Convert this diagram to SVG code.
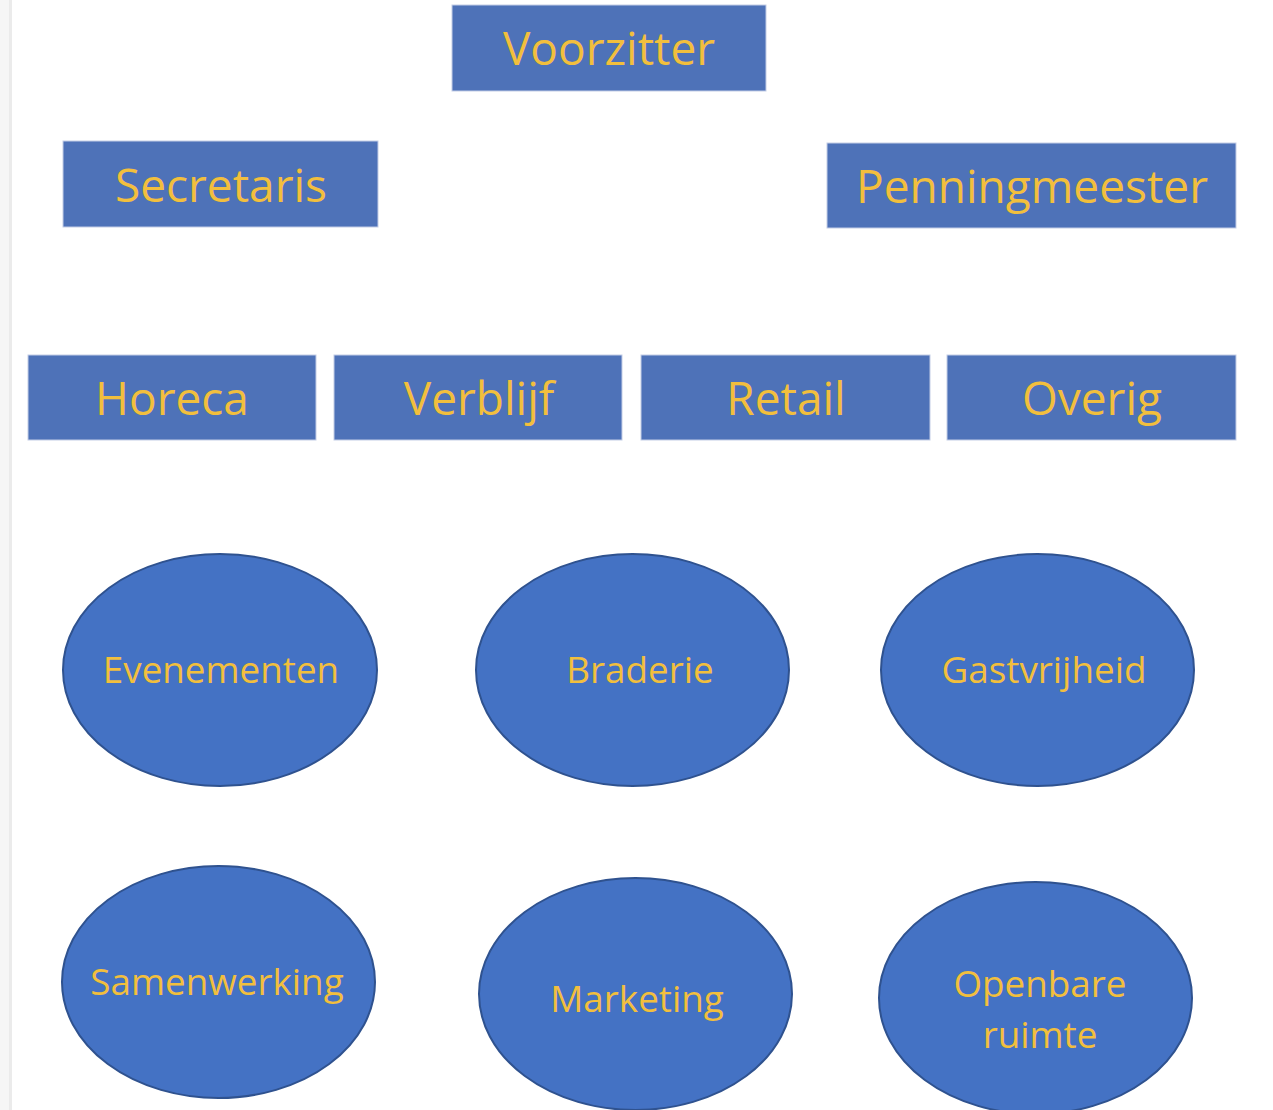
<svg xmlns="http://www.w3.org/2000/svg" width="1273" height="1110" viewBox="0 0 1273 1110">
<style>
.box{fill:#4e72b8;stroke:#c3cde6;stroke-width:1}
.oval{fill:#4472c4;stroke:#2f528f;stroke-width:2}
.t{fill:#f2bf3d;font-family:"Open Sans","Noto Sans",sans-serif;text-anchor:middle}
.tb{font-size:46px}
.to{font-size:36.8px}
</style>
<rect x="0" y="0" width="1273" height="1110" fill="#ffffff"/>
<rect x="0" y="0" width="9" height="1110" fill="#f6f6f6"/>
<rect x="9" y="0" width="3" height="1110" fill="#ebebeb"/>
<g id="connectors"></g>
<g id="voorzitter"><rect class="box" x="452" y="5" width="314" height="86"/><text class="t tb" x="609" y="65">Voorzitter</text></g>
<g id="secretaris"><rect class="box" x="63" y="141" width="315" height="86"/><text class="t tb" x="221" y="202">Secretaris</text></g>
<g id="penningmeester"><rect class="box" x="827" y="143" width="409" height="85"/><text class="t tb" x="1032" y="203">Penningmeester</text></g>
<g id="horeca"><rect class="box" x="28" y="355" width="288" height="85"/><text class="t tb" x="172" y="415">Horeca</text></g>
<g id="verblijf"><rect class="box" x="334" y="355" width="288" height="85"/><text class="t tb" x="479" y="415">Verblijf</text></g>
<g id="retail"><rect class="box" x="641" y="355" width="289" height="85"/><text class="t tb" x="786" y="415">Retail</text></g>
<g id="overig"><rect class="box" x="947" y="355" width="289" height="85"/><text class="t tb" x="1092" y="415">Overig</text></g>
<g id="evenementen"><ellipse class="oval" cx="220" cy="670" rx="157" ry="116"/><text class="t to" x="221" y="683">Evenementen</text></g>
<g id="braderie"><ellipse class="oval" cx="632.5" cy="670" rx="156.5" ry="116"/><text class="t to" x="640" y="683">Braderie</text></g>
<g id="gastvrijheid"><ellipse class="oval" cx="1037.5" cy="670" rx="156.5" ry="116"/><text class="t to" x="1044" y="683">Gastvrijheid</text></g>
<g id="samenwerking"><ellipse class="oval" cx="218.5" cy="982" rx="156.5" ry="116"/><text class="t to" x="217" y="995">Samenwerking</text></g>
<g id="marketing"><ellipse class="oval" cx="635.5" cy="994" rx="156.5" ry="116"/><text class="t to" x="637" y="1012">Marketing</text></g>
<g id="openbare-ruimte"><ellipse class="oval" cx="1035.5" cy="998" rx="156.5" ry="116"/><text class="t to" x="1040" y="997">Openbare</text><text class="t to" x="1040" y="1048">ruimte</text></g>
</svg>
